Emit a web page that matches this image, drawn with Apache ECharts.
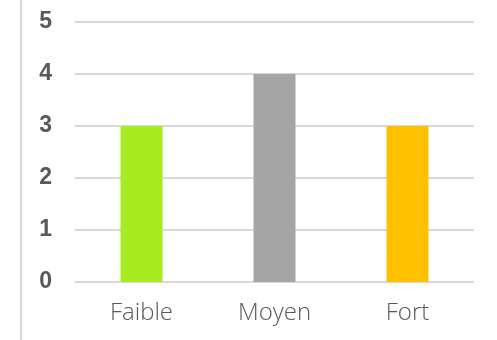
<!DOCTYPE html>
<html>
<head>
<meta charset="utf-8">
<script src="https://cdn.jsdelivr.net/npm/echarts@6/dist/echarts.min.js"></script>
<style>
  html, body { margin: 0; padding: 0; background: #fff; }
  #chart { width: 497px; height: 340px; }
</style>
</head>
<body>
<div id="chart"></div>
<script>
// Category labels, values and bar colours
const categories = ['Faible', 'Moyen', 'Fort'];
const values = [3, 4, 3];
const barColors = ['#A9EB21', '#A5A5A5', '#FFC000'];
const yTicks = { min: 0, max: 5, interval: 1 };

const chart = echarts.init(document.getElementById('chart'), null, { renderer: 'canvas' });

chart.setOption({
  animation: false,
  backgroundColor: '#ffffff',
  grid: { left: 75, right: 23, top: 22, bottom: 58, containLabel: false },
  graphic: [{
    type: 'line',
    shape: { x1: 21, y1: 0, x2: 21, y2: 340 },
    style: { stroke: '#d9d9d9', lineWidth: 2 }
  }],
  xAxis: {
    type: 'category',
    data: categories,
    axisLine: { show: false },
    axisTick: { show: false },
    axisLabel: {
      margin: 19,
      color: '#595959',
      fontFamily: 'Open Sans',
      fontSize: 24,
      fontWeight: 300
    }
  },
  yAxis: {
    type: 'value',
    min: yTicks.min,
    max: yTicks.max,
    interval: yTicks.interval,
    axisLine: { show: false },
    axisTick: { show: false },
    splitLine: { lineStyle: { color: '#d9d9d9', width: 2 } },
    axisLabel: {
      margin: 23,
      color: '#595959',
      fontFamily: 'Liberation Sans',
      fontSize: 23,
      fontWeight: 'bold'
    }
  },
  series: [{
    type: 'bar',
    barWidth: 42,
    data: values.map((v, i) => ({ value: v, itemStyle: { color: barColors[i] } }))
  }]
});
</script>
</body>
</html>
